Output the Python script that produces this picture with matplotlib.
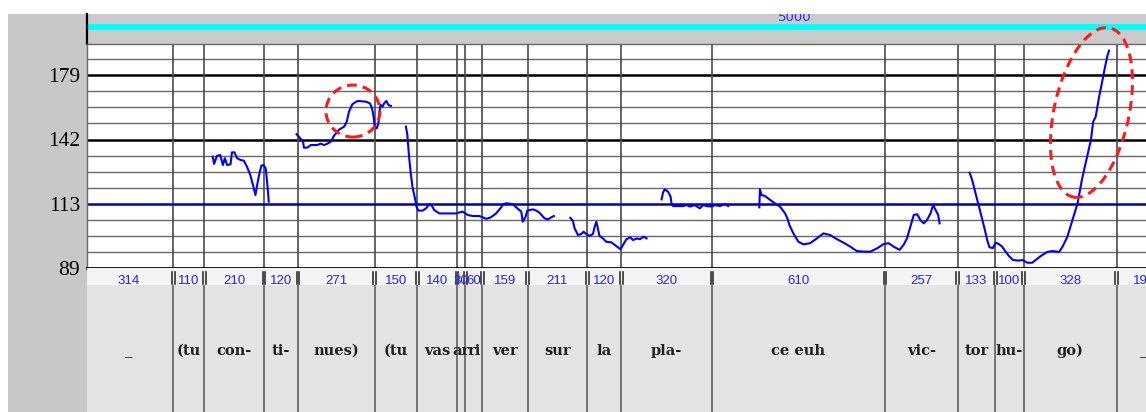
import matplotlib
matplotlib.use("Agg")
import matplotlib.pyplot as plt
import matplotlib.transforms as mtransforms
from matplotlib.patches import Ellipse, Rectangle
from matplotlib.ticker import NullLocator
import numpy as np

# ── data ─────────────────────────────────────────────────────────
t_start = 2492          # ms, start of first segment
time_mark = 5000        # ms mark shown in top strip

durations = [314, 110, 210, 120, 271, 150, 140, 30, 60, 159, 211, 120, 320, 610, 257, 133, 100, 328, 190]
syllables = ["_", "(tu", "con-", "ti-", "nues)", "(tu", "vas", "ar", "ri", "ver", "sur", "la", "pla-",
             "ce euh", "vic-", "tor", "hu-", "go)", "_"]

y_ticks = [89, 112.1, 141.3, 178.0]
y_tick_labels = ["89", "113", "142", "179"]
ref_hz = 112.1

# F0 contour (ms, Hz), one list pair per voiced stretch
f0_t1 = [2945, 2950, 2960, 2972, 2981, 2988, 2996, 3008, 3013, 3022, 3031, 3043, 3055, 3066, 3078, 3087,
         3096, 3102, 3110, 3117, 3124, 3132, 3137, 3143]
f0_hz1 = [132.8, 129.4, 133.2, 133.6, 128.9, 132.1, 128.9, 129.2, 134.9, 134.9, 132.1, 131.3, 130.9, 128.1,
          124.3, 120.0, 115.7, 120.0, 125.1, 128.6, 128.9, 127.4, 121.4, 113.0]

f0_t2 = [3241, 3249, 3264, 3267, 3279, 3291, 3314, 3326, 3338, 3350, 3362, 3373, 3391, 3409, 3418, 3426,
         3438, 3456, 3485, 3500, 3507, 3512, 3517, 3524, 3530, 3535, 3538, 3544, 3550, 3558, 3565, 3574]
f0_hz2 = [144.0, 142.7, 140.2, 137.2, 137.2, 138.5, 138.5, 139.2, 138.5, 139.2, 140.2, 143.2, 146.4, 148.0,
          150.6, 156.2, 160.4, 162.3, 161.9, 160.9, 158.1, 154.3, 148.0, 147.1, 149.8, 158.1, 160.0, 159.0,
          160.9, 162.3, 160.0, 159.4]

f0_t3 = [3627, 3632, 3638, 3644, 3650, 3660, 3664, 3671, 3686, 3698, 3709, 3719, 3727, 3745, 3804, 3827,
         3845, 3862, 3886, 3898, 3910, 3927, 3945, 3963, 3971, 3981, 4004, 4016, 4034, 4039, 4049, 4055,
         4063, 4075, 4087, 4098, 4116, 4128, 4140, 4149]
f0_hz3 = [148.0, 143.6, 132.8, 125.1, 119.2, 113.7, 111.0, 109.4, 109.4, 110.3, 112.0, 111.2, 109.6, 108.3,
          108.3, 109.0, 107.7, 107.3, 107.3, 106.8, 106.2, 106.8, 108.3, 110.7, 112.0, 112.3, 112.0, 110.7,
          109.0, 105.1, 107.0, 109.4, 109.6, 109.9, 109.4, 108.6, 106.4, 106.0, 106.8, 107.3]

f0_t4 = [4207, 4216, 4222, 4234, 4246, 4254, 4263, 4275, 4287, 4293, 4299, 4304, 4310, 4322, 4334, 4352,
         4364, 4375, 4384, 4393, 4405, 4419, 4428, 4442, 4452, 4466, 4476]
f0_hz4 = [106.6, 105.5, 102.7, 100.2, 100.6, 101.4, 100.6, 99.9, 100.6, 103.3, 105.1, 102.7, 99.9, 99.0,
          97.8, 97.6, 96.7, 95.9, 95.2, 96.7, 98.7, 99.4, 98.4, 99.0, 98.7, 99.6, 99.0]

f0_t5 = [4529, 4534, 4540, 4552, 4561, 4564, 4570, 4605, 4617, 4629, 4646, 4664, 4676, 4688, 4706, 4717,
         4735, 4753, 4764]
f0_hz5 = [113.9, 116.7, 118.1, 117.1, 115.0, 112.3, 111.2, 111.2, 111.6, 111.0, 111.6, 110.3, 111.6, 111.2,
          111.0, 111.6, 111.2, 112.0, 111.2]

f0_t6 = [4874, 4876, 4882, 4894, 4912, 4929, 4947, 4965, 4973, 4980, 4994, 5012, 5030, 5053, 5077, 5100,
         5124, 5148, 5171, 5195, 5218, 5242, 5266, 5289, 5313, 5330, 5348, 5369, 5383, 5395, 5407, 5419,
         5431, 5442, 5454, 5466, 5478, 5487, 5495, 5505, 5510]
f0_hz6 = [110.7, 118.1, 115.7, 115.3, 113.7, 112.3, 111.0, 108.3, 106.4, 103.9, 100.8, 97.8, 96.9, 97.3,
          99.0, 100.8, 100.2, 98.7, 97.5, 96.1, 94.6, 94.4, 94.4, 95.5, 97.0, 97.3, 96.1, 95.0, 96.7, 99.0,
          103.3, 107.7, 108.0, 105.8, 104.5, 105.8, 108.3, 111.6, 109.9, 107.7, 104.5]

f0_t7 = [5616, 5625, 5637, 5649, 5661, 5670, 5678, 5686, 5698, 5708, 5719, 5731, 5743, 5755, 5769, 5790,
         5802, 5820, 5837, 5849, 5867, 5890, 5908, 5932, 5944, 5961, 5979, 5997, 6012, 6028, 6044, 6052,
         6061, 6073, 6085, 6094, 6103, 6108]
f0_hz7 = [125.4, 122.1, 116.4, 111.0, 105.8, 102.0, 98.4, 95.9, 95.6, 97.5, 97.0, 96.1, 94.4, 92.9, 91.6,
          91.4, 91.6, 90.7, 90.7, 91.6, 92.9, 94.3, 94.6, 94.3, 96.1, 99.6, 105.8, 112.3, 122.1, 131.3,
          141.0, 150.6, 153.4, 164.8, 175.0, 183.6, 191.5, 194.5]

contours = [(f0_t1, f0_hz1), (f0_t2, f0_hz2), (f0_t3, f0_hz3), (f0_t4, f0_hz4),
            (f0_t5, f0_hz5), (f0_t6, f0_hz6), (f0_t7, f0_hz7)]

# highlighted regions (centre ms, centre Hz)
mark1 = (3440, 156.5)
mark2 = (6046, 155.7)

# ── layout (pixels) ──────────────────────────────────────────────
W, H = 1146, 412
fig = plt.figure(figsize=(W / 100, H / 100), dpi=100)
fig.patch.set_facecolor("white")


def px_axes(x0, y0, x1, y1):
    return fig.add_axes([x0 / W, 1 - y1 / H, (x1 - x0) / W, (y1 - y0) / H])


fig.add_artist(Rectangle((8 / W, 0), 1 - 8 / W, 1 - 14 / H, transform=fig.transFigure,
                         facecolor="#c8c8c8", edgecolor="none", zorder=-1))

ms_per_px = 1 / 0.28339
x_left = t_start + (87 - 84.3) * ms_per_px
x_right = t_start + (1146 - 84.3) * ms_per_px
bounds = t_start + np.cumsum([0] + durations)
centers = (bounds[:-1] + bounds[1:]) / 2
hz_top = 89 * 2 ** ((268 - 44) / 16.06 / 12)

# ── top strip ────────────────────────────────────────────────────
ax_top = px_axes(87, 14, 1146, 44)
ax_top.set_facecolor("#cbcbcb")
ax_top.set_xlim(x_left, x_right)
ax_top.set_ylim(0, 1)
ax_top.axhline(0.57, color="#00ffff", lw=4.3)
for s in ["top", "right", "bottom"]:
    ax_top.spines[s].set_visible(False)
ax_top.spines["left"].set_color("black")
ax_top.spines["left"].set_linewidth(1.6)
ax_top.set_xticks([]); ax_top.set_yticks([])
# time mark, half hidden above the strip
ax_top.text(time_mark, 0.77, str(time_mark), color="#2a2aff", fontsize=9.5, ha="center",
            va="baseline", family="DejaVu Sans", clip_on=True)

# ── pitch panel ──────────────────────────────────────────────────
ax = px_axes(87, 44, 1146, 268)
ax.set_facecolor("white")
ax.set_yscale("log")
ax.set_xlim(x_left, x_right)
ax.set_ylim(89, hz_top)
ax.yaxis.set_minor_locator(NullLocator())
ax.set_xticks([])

for k in range(1, 14):
    hz = 89 * 2 ** (k / 12)
    if k == 4:
        continue
    if k % 4 == 0:
        ax.axhline(hz, color="black", lw=1.8, zorder=1)
    else:
        ax.axhline(hz, color="#686868", lw=1.0, zorder=1)
ax.axhline(ref_hz, color="#0000a8", lw=1.8, zorder=2)

for b in bounds[1:-1]:
    ax.axvline(b, color="#4a4a4a", lw=1.2, zorder=1)

for t, f in contours:
    ax.plot(t, f, color="#0000ff", lw=1.5, zorder=3, solid_joinstyle="round")

ax.set_yticks(y_ticks)
ax.set_yticklabels(y_tick_labels, family="Liberation Serif", fontsize=15.5)
ax.tick_params(axis="y", length=0, pad=5)
ax.spines["right"].set_visible(False)
ax.spines["top"].set_color("#686868")
ax.spines["top"].set_linewidth(1.0)
ax.spines["left"].set_color("#686868")
ax.spines["left"].set_linewidth(1.0)
ax.spines["bottom"].set_color("black")
ax.spines["bottom"].set_linewidth(2.0)

# ── duration row ─────────────────────────────────────────────────
ax_dur = px_axes(87, 268, 1146, 285)
ax_dur.set_facecolor("#f4f4f4")
ax_dur.set_xlim(x_left, x_right)
ax_dur.set_ylim(285, 268)
ax_dur.set_xticks([]); ax_dur.set_yticks([])
for s in ax_dur.spines.values():
    s.set_visible(False)
for dx in (-1.3, 1.3):
    tr = mtransforms.offset_copy(ax_dur.transData, fig=fig, x=dx, y=0, units="dots")
    for b in bounds[1:-1]:
        ax_dur.plot([b, b], [271.5, 283.5], color="#303030", lw=1.2, transform=tr)
for c, d in zip(centers, durations):
    ax_dur.text(c, 280.5, str(d), color="#2020ff", fontsize=9.5, family="Liberation Sans",
                ha="center", va="center", clip_on=True, zorder=3)

# ── syllable tier ────────────────────────────────────────────────
ax_tier = px_axes(87, 285, 1146, 412)
ax_tier.set_facecolor("#e4e4e4")
ax_tier.set_xlim(x_left, x_right)
ax_tier.set_ylim(412, 285)
ax_tier.set_xticks([]); ax_tier.set_yticks([])
for s in ax_tier.spines.values():
    s.set_visible(False)
for b in bounds[1:-1]:
    ax_tier.axvline(b, color="#555555", lw=1.1)
for c, lab in zip(centers, syllables):
    ax_tier.text(c, 355, lab, fontsize=10.5, family="DejaVu Serif", fontweight="bold",
                 color="#202020", ha="center", va="baseline", clip_on=True)

# ── red dashed highlights ────────────────────────────────────────
for (mt, mh), (w, h, ang) in [(mark1, (0.54, 0.52, 0)), (mark2, (0.75, 1.73, -12.3))]:
    tr = fig.dpi_scale_trans + mtransforms.ScaledTranslation(mt, mh, ax.transData)
    fig.add_artist(Ellipse((0, 0), w, h, angle=ang, transform=tr, fill=False,
                           edgecolor="#ff1a1a", lw=2.2, linestyle=(0, (3.2, 2.0)), zorder=10))

fig.savefig("out.png", dpi=100)
